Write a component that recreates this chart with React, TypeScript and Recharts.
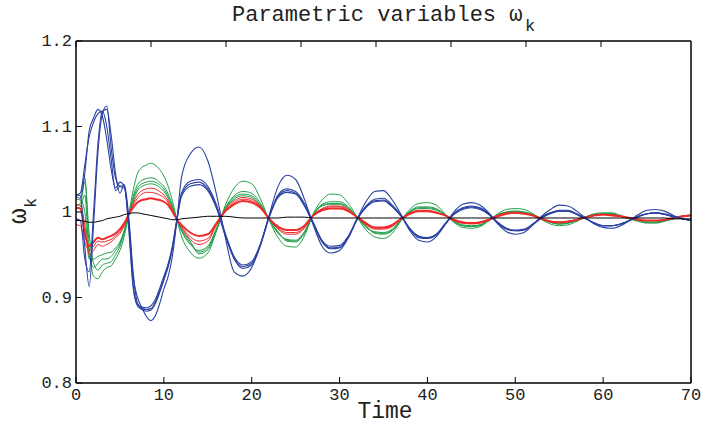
import { Line, LineChart, XAxis, YAxis } from 'recharts'

// sample times: 0.5 steps up to t=12, then 1 s steps
const time = [
  0, 0.5, 1, 1.5, 2, 2.5, 3, 3.5, 4, 4.5,
  5, 5.5, 6, 6.5, 7, 7.5, 8, 8.5, 9, 9.5,
  10, 10.5, 11, 11.5, 12,
  13, 14, 15, 16, 17, 18, 19, 20, 21, 22,
  23, 24, 25, 26, 27, 28, 29, 30, 31, 32,
  33, 34, 35, 36, 37, 38, 39, 40, 41, 42,
  43, 44, 45, 46, 47, 48, 49, 50, 51, 52,
  53, 54, 55, 56, 57, 58, 59, 60, 61, 62,
  63, 64, 65, 66, 67, 68, 69, 70,
]

const xTicks = [0, 10, 20, 30, 40, 50, 60, 70]
const yTicks = [0.8, 0.9, 1, 1.1, 1.2]

const black = [
  0.990, 0.990, 0.989, 0.988, 0.988, 0.989, 0.990, 0.992, 0.993, 0.994,
  0.995, 0.997, 0.998, 0.999, 0.999, 0.998, 0.997, 0.996, 0.995, 0.994,
  0.993, 0.992, 0.991, 0.991, 0.992,
  0.993, 0.994, 0.995, 0.995, 0.995, 0.994, 0.993, 0.993, 0.993, 0.993,
  0.993, 0.994, 0.994, 0.994, 0.993, 0.993, 0.993, 0.993, 0.993, 0.993,
  0.993, 0.993, 0.993, 0.993, 0.993, 0.993, 0.993, 0.993, 0.993, 0.993,
  0.993, 0.993, 0.993, 0.993, 0.993, 0.993, 0.993, 0.993, 0.993, 0.993,
  0.993, 0.993, 0.993, 0.993, 0.993, 0.993, 0.993, 0.993, 0.993, 0.993,
  0.993, 0.993, 0.993, 0.993, 0.993, 0.992, 0.992, 0.992,
]

const blue1 = [
  1.020, 1.019, 0.960, 0.913, 0.985, 1.070, 1.115, 1.124, 1.075, 1.040,
  1.030, 1.028, 0.990, 0.925, 0.900, 0.888, 0.878, 0.873, 0.878, 0.892,
  0.910, 0.925, 0.950, 0.992, 1.040,
  1.068, 1.076, 1.060, 1.020, 0.970, 0.930, 0.925, 0.935, 0.962, 0.997,
  1.030, 1.043, 1.038, 1.015, 0.985, 0.960, 0.952, 0.955, 0.970, 0.992,
  1.012, 1.024, 1.025, 1.014, 0.997, 0.978, 0.967, 0.965, 0.971, 0.985,
  1.000, 1.009, 1.011, 1.008, 0.999, 0.986, 0.977, 0.974, 0.976, 0.985,
  0.995, 1.003, 1.008, 1.007, 1.001, 0.993, 0.986, 0.982, 0.981, 0.984,
  0.990, 0.997, 1.002, 1.003, 1.001, 0.996, 0.992, 0.990,
]

const blue2 = [
  1.018, 1.016, 1.045, 1.095, 1.110, 1.120, 1.112, 1.085, 1.050, 1.028,
  1.035, 1.030, 0.985, 0.915, 0.892, 0.889, 0.888, 0.890, 0.897, 0.910,
  0.925, 0.940, 0.962, 0.993, 1.022,
  1.036, 1.038, 1.030, 1.008, 0.975, 0.948, 0.938, 0.942, 0.963, 0.995,
  1.020, 1.027, 1.024, 1.010, 0.988, 0.967, 0.960, 0.961, 0.972, 0.992,
  1.007, 1.015, 1.016, 1.008, 0.996, 0.981, 0.972, 0.970, 0.974, 0.986,
  0.998, 1.005, 1.007, 1.005, 0.998, 0.988, 0.981, 0.979, 0.980, 0.986,
  0.994, 0.999, 1.002, 1.002, 0.998, 0.993, 0.987, 0.984, 0.984, 0.986,
  0.990, 0.995, 0.998, 0.999, 0.998, 0.995, 0.992, 0.990,
]

const blue3 = [
  0.992, 0.990, 0.945, 0.930, 1.000, 1.080, 1.118, 1.120, 1.090, 1.045,
  1.022, 1.032, 0.995, 0.930, 0.893, 0.887, 0.886, 0.887, 0.894, 0.907,
  0.922, 0.938, 0.960, 0.992, 1.020,
  1.033, 1.035, 1.027, 1.006, 0.973, 0.946, 0.936, 0.940, 0.962, 0.995,
  1.018, 1.025, 1.022, 1.008, 0.987, 0.966, 0.958, 0.959, 0.971, 0.992,
  1.006, 1.013, 1.014, 1.007, 0.995, 0.980, 0.971, 0.969, 0.973, 0.986,
  0.998, 1.004, 1.006, 1.004, 0.997, 0.987, 0.980, 0.978, 0.979, 0.986,
  0.994, 0.999, 1.001, 1.001, 0.997, 0.992, 0.987, 0.984, 0.984, 0.986,
  0.990, 0.995, 0.998, 0.999, 0.997, 0.995, 0.992, 0.990,
]

const blue4 = [
  1.020, 1.022, 1.055, 1.088, 1.105, 1.115, 1.118, 1.100, 1.062, 1.025,
  1.030, 1.031, 0.980, 0.912, 0.890, 0.886, 0.884, 0.885, 0.892, 0.905,
  0.920, 0.936, 0.958, 0.991, 1.018,
  1.030, 1.032, 1.025, 1.004, 0.972, 0.945, 0.934, 0.938, 0.961, 0.994,
  1.017, 1.023, 1.021, 1.007, 0.986, 0.965, 0.957, 0.958, 0.970, 0.991,
  1.005, 1.012, 1.013, 1.006, 0.995, 0.980, 0.970, 0.969, 0.973, 0.985,
  0.997, 1.003, 1.005, 1.003, 0.997, 0.987, 0.980, 0.978, 0.979, 0.985,
  0.993, 0.998, 1.001, 1.001, 0.997, 0.992, 0.987, 0.984, 0.984, 0.986,
  0.990, 0.994, 0.998, 0.999, 0.997, 0.994, 0.992, 0.990,
]

const green1 = [
  1.020, 1.022, 1.040, 0.960, 0.925, 0.922, 0.930, 0.935, 0.937, 0.945,
  0.955, 0.972, 0.997, 1.025, 1.045, 1.052, 1.055, 1.057, 1.055, 1.050,
  1.042, 1.030, 1.012, 0.990, 0.972,
  0.953, 0.946, 0.952, 0.978, 1.008, 1.028, 1.036, 1.033, 1.015, 0.990,
  0.970, 0.960, 0.959, 0.972, 0.998, 1.014, 1.021, 1.020, 1.010, 0.994,
  0.979, 0.971, 0.969, 0.975, 0.990, 1.003, 1.010, 1.011, 1.008, 0.998,
  0.988, 0.982, 0.981, 0.983, 0.990, 0.998, 1.003, 1.004, 1.003, 0.998,
  0.991, 0.986, 0.984, 0.985, 0.989, 0.994, 0.998, 0.999, 0.999, 0.996,
  0.992, 0.989, 0.987, 0.987, 0.989, 0.992, 0.995, 0.997,
]

const green2 = [
  1.008, 1.010, 1.035, 0.975, 0.940, 0.932, 0.938, 0.940, 0.942, 0.950,
  0.960, 0.976, 0.997, 1.018, 1.032, 1.037, 1.039, 1.040, 1.039, 1.035,
  1.030, 1.021, 1.007, 0.991, 0.978,
  0.962, 0.955, 0.960, 0.981, 1.005, 1.019, 1.024, 1.022, 1.010, 0.991,
  0.975, 0.968, 0.967, 0.977, 0.997, 1.009, 1.012, 1.012, 1.006, 0.994,
  0.982, 0.977, 0.976, 0.980, 0.991, 1.001, 1.006, 1.006, 1.004, 0.997,
  0.989, 0.985, 0.984, 0.985, 0.990, 0.997, 1.000, 1.001, 1.000, 0.997,
  0.992, 0.988, 0.986, 0.987, 0.990, 0.994, 0.997, 0.998, 0.998, 0.995,
  0.992, 0.990, 0.988, 0.988, 0.990, 0.992, 0.995, 0.996,
]

const green3 = [
  1.004, 1.006, 1.020, 0.950, 0.935, 0.940, 0.945, 0.945, 0.948, 0.955,
  0.963, 0.978, 0.997, 1.015, 1.028, 1.033, 1.035, 1.036, 1.035, 1.032,
  1.027, 1.018, 1.005, 0.991, 0.979,
  0.964, 0.953, 0.958, 0.980, 1.004, 1.017, 1.021, 1.019, 1.008, 0.991,
  0.976, 0.967, 0.966, 0.976, 0.996, 1.008, 1.010, 1.010, 1.005, 0.994,
  0.983, 0.976, 0.975, 0.979, 0.991, 1.000, 1.005, 1.005, 1.003, 0.997,
  0.989, 0.984, 0.983, 0.985, 0.990, 0.996, 1.000, 1.001, 1.000, 0.997,
  0.992, 0.988, 0.986, 0.987, 0.990, 0.994, 0.997, 0.998, 0.998, 0.995,
  0.992, 0.990, 0.988, 0.988, 0.990, 0.992, 0.995, 0.996,
]

const green4 = [
  1.015, 1.014, 1.000, 0.945, 0.945, 0.948, 0.950, 0.952, 0.953, 0.958,
  0.965, 0.979, 0.997, 1.012, 1.025, 1.030, 1.032, 1.033, 1.032, 1.029,
  1.024, 1.016, 1.004, 0.991, 0.980,
  0.966, 0.951, 0.956, 0.979, 1.003, 1.015, 1.019, 1.017, 1.007, 0.991,
  0.977, 0.966, 0.965, 0.975, 0.996, 1.007, 1.009, 1.009, 1.004, 0.994,
  0.984, 0.975, 0.974, 0.978, 0.990, 1.000, 1.004, 1.004, 1.002, 0.997,
  0.989, 0.984, 0.983, 0.984, 0.990, 0.996, 0.999, 1.000, 0.999, 0.997,
  0.992, 0.988, 0.986, 0.987, 0.990, 0.994, 0.997, 0.997, 0.997, 0.995,
  0.992, 0.990, 0.988, 0.988, 0.990, 0.992, 0.994, 0.996,
]

const red1 = [
  1.008, 1.008, 0.985, 0.950, 0.955, 0.962, 0.960, 0.962, 0.965, 0.970,
  0.975, 0.984, 0.997, 1.010, 1.020, 1.025, 1.027, 1.028, 1.027, 1.024,
  1.020, 1.013, 1.002, 0.991, 0.982,
  0.968, 0.962, 0.966, 0.985, 1.003, 1.013, 1.017, 1.015, 1.007, 0.992,
  0.980, 0.974, 0.974, 0.981, 0.996, 1.004, 1.007, 1.007, 1.003, 0.994,
  0.985, 0.980, 0.980, 0.983, 0.992, 0.999, 1.002, 1.002, 1.000, 0.996,
  0.990, 0.987, 0.986, 0.987, 0.991, 0.996, 0.999, 0.999, 0.998, 0.996,
  0.992, 0.989, 0.988, 0.989, 0.991, 0.994, 0.996, 0.997, 0.997, 0.995,
  0.993, 0.991, 0.990, 0.990, 0.991, 0.993, 0.995, 0.996,
]

const red2 = [
  0.985, 0.984, 0.965, 0.955, 0.960, 0.966, 0.965, 0.966, 0.968, 0.972,
  0.977, 0.985, 0.997, 1.008, 1.016, 1.021, 1.023, 1.023, 1.022, 1.020,
  1.017, 1.011, 1.001, 0.991, 0.983,
  0.971, 0.966, 0.969, 0.986, 1.002, 1.011, 1.015, 1.013, 1.006, 0.992,
  0.981, 0.976, 0.976, 0.982, 0.996, 1.003, 1.006, 1.006, 1.002, 0.994,
  0.986, 0.981, 0.981, 0.984, 0.992, 0.998, 1.001, 1.001, 0.999, 0.996,
  0.990, 0.987, 0.987, 0.988, 0.991, 0.996, 0.998, 0.999, 0.998, 0.996,
  0.992, 0.989, 0.988, 0.989, 0.991, 0.994, 0.996, 0.997, 0.996, 0.995,
  0.993, 0.991, 0.990, 0.990, 0.991, 0.993, 0.995, 0.996,
]

const red3 = [
  1.005, 1.004, 0.975, 0.960, 0.965, 0.970, 0.968, 0.970, 0.972, 0.975,
  0.980, 0.987, 0.997, 1.005, 1.011, 1.014, 1.015, 1.016, 1.015, 1.014,
  1.012, 1.008, 1.000, 0.991, 0.985,
  0.976, 0.972, 0.974, 0.987, 1.001, 1.009, 1.013, 1.011, 1.005, 0.992,
  0.983, 0.979, 0.979, 0.984, 0.996, 1.002, 1.004, 1.004, 1.001, 0.994,
  0.987, 0.982, 0.982, 0.985, 0.992, 0.998, 1.001, 1.001, 0.999, 0.996,
  0.991, 0.988, 0.987, 0.988, 0.991, 0.995, 0.998, 0.999, 0.998, 0.996,
  0.992, 0.989, 0.988, 0.989, 0.991, 0.994, 0.996, 0.997, 0.996, 0.995,
  0.993, 0.991, 0.990, 0.990, 0.991, 0.993, 0.995, 0.996,
]

const BLUE = '#2a41a2'
const GREEN = '#1fa04a'
const RED = '#ee2a2a'
const FONT = '"Liberation Mono", "Courier New", monospace'
const TEXT = '#222'

const series = [
  { key: 'g1', values: green1, color: GREEN, width: 1 },
  { key: 'g2', values: green2, color: GREEN, width: 1 },
  { key: 'g3', values: green3, color: GREEN, width: 1 },
  { key: 'g4', values: green4, color: GREEN, width: 1 },
  { key: 'r1', values: red1, color: RED, width: 1 },
  { key: 'r2', values: red2, color: RED, width: 1 },
  { key: 'r3', values: red3, color: RED, width: 2 },
  { key: 'b1', values: blue1, color: BLUE, width: 1.1 },
  { key: 'b2', values: blue2, color: BLUE, width: 1.1 },
  { key: 'b3', values: blue3, color: BLUE, width: 1.1 },
  { key: 'b4', values: blue4, color: BLUE, width: 1.1 },
  { key: 'k', values: black, color: '#000', width: 1 },
]

const rows = time.map((t, i) => {
  const row: Record<string, number> = { t }
  series.forEach((s) => {
    row[s.key] = s.values[i]
  })
  return row
})

// ticks point into the plot box, like the matlab original
function BottomTick({ x, y, payload }: any) {
  return (
    <g>
      <line x1={x} x2={x} y1={y} y2={y - 6} stroke="#000" />
      <text x={x} y={y + 17} textAnchor="middle" fontFamily={FONT} fontSize={17} fill={TEXT}>
        {payload.value}
      </text>
    </g>
  )
}

function TopTick({ x, y }: any) {
  return <line x1={x} x2={x} y1={y} y2={y + 6} stroke="#000" />
}

function LeftTick({ x, y, payload }: any) {
  return (
    <g>
      <line x1={x} x2={x + 6} y1={y} y2={y} stroke="#000" />
      <text x={x - 4} y={y + 5} textAnchor="end" fontFamily={FONT} fontSize={17} fill={TEXT}>
        {String(payload.value)}
      </text>
    </g>
  )
}

function RightTick({ x, y }: any) {
  return <line x1={x} x2={x - 6} y1={y} y2={y} stroke="#000" />
}

const axisLine = { stroke: '#000', strokeWidth: 1.5 }

export default function App() {
  return (
    <div style={{ position: 'relative', width: 702, height: 428, background: '#fff' }}>
      <style>{'body{margin:0}'}</style>
      <LineChart
        width={702}
        height={428}
        data={rows}
        margin={{ top: 31, right: 1, bottom: 25, left: 56 }}
      >
        <XAxis
          dataKey="t"
          type="number"
          domain={[0, 70]}
          ticks={xTicks}
          interval={0}
          height={20}
          tickSize={0}
          tickMargin={0}
          tickLine={false}
          tick={BottomTick}
          axisLine={axisLine}
        />
        <XAxis
          xAxisId="top"
          orientation="top"
          type="number"
          domain={[0, 70]}
          ticks={xTicks}
          interval={0}
          height={10}
          tickSize={0}
          tickMargin={0}
          tickLine={false}
          tick={TopTick}
          axisLine={axisLine}
        />
        <YAxis
          type="number"
          domain={[0.8, 1.2]}
          ticks={yTicks}
          interval={0}
          width={20}
          allowDataOverflow
          tickSize={0}
          tickMargin={0}
          tickLine={false}
          tick={LeftTick}
          axisLine={axisLine}
        />
        <YAxis
          yAxisId="right"
          orientation="right"
          type="number"
          domain={[0.8, 1.2]}
          ticks={yTicks}
          interval={0}
          width={10}
          tickSize={0}
          tickMargin={0}
          tickLine={false}
          tick={RightTick}
          axisLine={axisLine}
        />
        {series.map((s) => (
          <Line
            key={s.key}
            dataKey={s.key}
            type="monotone"
            stroke={s.color}
            strokeWidth={s.width}
            dot={false}
            activeDot={false}
            isAnimationActive={false}
          />
        ))}
      </LineChart>
      <svg
        width={702}
        height={428}
        style={{ position: 'absolute', left: 0, top: 0, pointerEvents: 'none' }}
      >
        <text x={232} y={21} fontFamily={FONT} fontSize={22} fill={TEXT}>
          Parametric variables ω
        </text>
        <text x={525} y={31} fontFamily={FONT} fontSize={17} fill={TEXT}>
          k
        </text>
        <text x={385} y={418} textAnchor="middle" fontFamily={FONT} fontSize={23} fill={TEXT}>
          Time
        </text>
        <g transform="translate(26, 224) rotate(-90)">
          <text x={0} y={0} fontFamily={FONT} fontSize={26} fill={TEXT}>
            ω
          </text>
          <text x={16} y={10} fontFamily={FONT} fontSize={17} fill={TEXT}>
            k
          </text>
        </g>
      </svg>
    </div>
  )
}
